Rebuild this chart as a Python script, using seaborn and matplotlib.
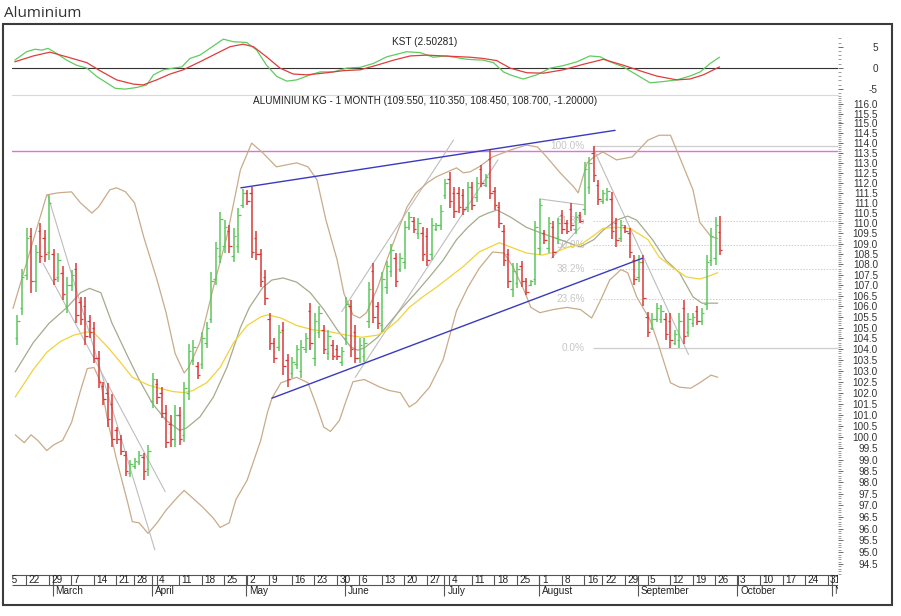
import numpy as np
import pandas as pd
import matplotlib
matplotlib.use("Agg")
import matplotlib.pyplot as plt
import matplotlib.ticker as ticker
from matplotlib.patches import Rectangle
import seaborn as sns

# trading calendar (exchange closed on Good Friday and Independence Day)
holidays = ["2016-03-25", "2016-08-15"]
first_bar = "2016-02-18"

# daily OHLC, one value per trading day from 18 Feb to 27 Sep 2016
highs = [
    105.6, 107.8, 109.75, 109.75, 108.95, 110.0, 109.65, 111.4, 108.75, 108.55,
    107.9, 107.4, 107.75, 108.05, 106.45, 106.45, 105.6, 105.25, 103.9, 102.5,
    102.45, 101.95, 100.45, 100.1, 99.4, 99.0, 99.05, 99.4, 99.3, 99.65,
    102.9, 102.6, 102.25, 101.45, 101.0, 101.45, 101.35, 102.5, 104.25, 104.4,
    103.4, 104.8, 105.25, 107.65, 109.1, 110.55, 110.15, 109.9, 109.75, 110.75,
    111.7, 111.65, 111.8, 109.6, 108.75, 107.75, 105.7, 104.5, 105.1, 105.25,
    103.75, 103.65, 104.2, 104.4, 104.75, 106.15, 105.7, 106.0, 105.1, 104.9,
    104.4, 104.2, 104.1, 106.45, 106.3, 105.1, 104.5, 104.5, 107.15, 108.05,
    106.2, 107.65, 108.15, 109.0, 108.55, 108.55, 110.1, 110.55, 110.3, 110.25,
    109.8, 109.75, 110.25, 110.0, 110.9, 112.2, 112.55, 111.8, 111.8, 111.7,
    112.05, 112.05, 112.3, 112.9, 112.45, 113.65, 111.8, 111.05, 109.9, 108.75,
    108.05, 108.05, 108.15, 107.35, 107.25, 110.1, 111.2, 109.65, 110.3, 110.1,
    110.25, 110.65, 110.15, 111.0, 110.55, 110.55, 113.05, 113.3, 113.85, 112.15,
    111.65, 111.75, 111.55, 110.25, 110.15, 109.9, 109.75, 108.45, 108.45, 108.45,
    105.75, 105.7, 106.15, 106.05, 105.7, 105.7, 104.9, 105.7, 106.3, 105.7,
    105.7, 106.0, 105.9, 108.45, 109.75, 110.3, 110.35,
]
lows = [
    104.2, 105.6, 107.25, 106.65, 106.7, 108.05, 108.1, 108.2, 107.0, 107.15,
    106.3, 105.7, 106.75, 105.2, 105.1, 104.2, 104.5, 103.35, 102.2, 101.45,
    100.45, 99.55, 99.7, 99.2, 98.3, 98.25, 98.6, 98.75, 98.1, 98.3,
    101.3, 101.5, 100.85, 99.5, 99.55, 99.55, 99.65, 99.8, 101.65, 103.25,
    102.6, 103.1, 104.05, 105.2, 107.0, 108.05, 108.55, 108.55, 108.1, 108.55,
    110.75, 110.9, 108.3, 108.2, 106.9, 106.05, 103.95, 103.35, 103.9, 102.8,
    102.25, 102.65, 103.1, 102.65, 103.8, 103.95, 103.2, 104.5, 103.75, 103.5,
    103.5, 103.5, 103.2, 104.2, 103.65, 103.35, 103.35, 103.4, 105.0, 105.2,
    104.95, 104.8, 106.6, 107.4, 106.9, 107.65, 107.8, 109.65, 109.5, 109.25,
    108.15, 107.9, 108.2, 109.6, 109.65, 111.2, 110.75, 110.25, 110.5, 110.4,
    110.55, 110.65, 111.05, 111.8, 111.8, 111.2, 110.65, 109.75, 107.9, 106.85,
    106.45, 106.85, 106.9, 106.55, 106.95, 107.0, 108.45, 109.0, 108.55, 108.3,
    109.0, 109.45, 109.45, 109.6, 109.45, 110.0, 110.4, 111.45, 112.05, 110.9,
    110.95, 111.1, 109.25, 108.85, 109.1, 109.5, 108.3, 107.0, 107.15, 106.0,
    104.55, 104.9, 105.25, 105.2, 104.4, 104.05, 104.2, 104.05, 104.25, 104.55,
    105.05, 105.1, 105.1, 105.85, 107.9, 107.95, 108.45,
]
opens = [
    104.5, 105.9, 107.5, 109.4, 107.2, 109.6, 109.3, 108.6, 108.5, 107.4,
    107.6, 106.0, 107.0, 107.8, 106.2, 106.0, 105.3, 105.0, 103.6, 102.3,
    102.0, 101.5, 100.3, 99.9, 99.2, 98.4, 98.7, 98.9, 99.1, 98.6,
    101.6, 102.4, 102.0, 101.1, 100.6, 99.9, 101.0, 100.1, 102.0, 103.5,
    103.2, 103.3, 104.3, 105.4, 107.3, 108.4, 108.9, 109.6, 108.4, 108.9,
    110.9, 111.5, 111.5, 109.3, 108.5, 107.4, 105.4, 104.3, 104.1, 104.9,
    103.5, 102.9, 103.3, 103.0, 104.0, 105.8, 103.6, 104.8, 104.9, 103.8,
    104.2, 104.0, 103.4, 104.5, 106.0, 104.8, 103.6, 103.7, 105.3, 107.7,
    106.0, 105.1, 106.9, 107.7, 108.3, 107.8, 108.1, 109.8, 110.1, 109.5,
    109.5, 109.4, 108.5, 109.7, 109.9, 111.4, 112.2, 111.5, 111.5, 111.4,
    110.8, 111.8, 111.3, 112.7, 111.9, 113.2, 111.6, 110.8, 109.6, 108.5,
    106.8, 107.1, 107.9, 107.2, 107.0, 107.3, 108.8, 109.5, 108.8, 109.8,
    109.3, 110.4, 110.0, 110.7, 109.7, 110.4, 110.7, 111.8, 113.5, 111.9,
    111.1, 111.2, 111.2, 110.0, 109.3, 109.8, 109.5, 108.2, 107.4, 108.1,
    105.5, 105.0, 105.4, 105.4, 105.4, 105.3, 104.3, 104.4, 105.9, 104.8,
    105.2, 105.8, 105.3, 106.1, 108.2, 108.3, 109.55,
]
closes = [
    105.3, 107.4, 109.3, 107.2, 108.6, 108.4, 108.5, 111.0, 107.3, 108.2,
    106.6, 107.0, 107.5, 105.6, 105.4, 104.6, 104.8, 103.6, 102.5, 101.7,
    100.8, 99.9, 99.9, 99.4, 98.5, 98.8, 98.95, 99.2, 98.5, 99.4,
    102.6, 101.8, 101.1, 99.8, 99.9, 101.0, 99.9, 102.2, 103.9, 104.1,
    102.8, 104.5, 105.0, 107.2, 108.8, 110.2, 109.8, 108.9, 109.4, 110.4,
    111.5, 111.1, 108.6, 108.5, 107.2, 106.4, 104.3, 103.6, 104.8, 103.2,
    102.6, 103.4, 104.0, 104.1, 104.5, 104.3, 105.3, 105.7, 104.0, 104.6,
    103.7, 103.7, 103.9, 106.1, 104.0, 103.6, 104.2, 104.3, 106.8, 105.5,
    105.2, 107.3, 107.9, 108.7, 107.2, 108.3, 109.8, 110.3, 109.7, 110.0,
    108.5, 108.2, 109.9, 109.9, 110.6, 112.0, 111.1, 110.6, 110.8, 110.7,
    111.8, 110.9, 112.0, 112.0, 112.3, 111.5, 110.9, 110.0, 108.2, 107.2,
    107.7, 107.8, 107.2, 106.7, 107.2, 109.8, 110.9, 109.2, 110.0, 108.6,
    110.0, 109.7, 109.6, 109.9, 110.3, 110.1, 112.7, 113.0, 112.4, 111.2,
    111.5, 111.6, 109.6, 109.2, 109.9, 109.6, 108.6, 107.3, 108.1, 106.4,
    104.8, 105.4, 105.9, 105.8, 104.7, 104.4, 104.7, 105.3, 104.6, 105.4,
    105.5, 105.3, 105.7, 108.1, 109.4, 109.9, 108.7,
]
prev_close = 109.9

# indicator readings; the *_at lists are trading-day numbers counted from 15 Feb
bb_upper_at = [2, 9.5, 12, 15, 17, 19.5, 21, 23.5, 25, 27, 29, 31, 34, 36, 38, 40, 41,
               43.5, 46.5, 49.5, 52.5, 55, 57.5, 60.5, 65, 67.5, 69.5, 71.5, 74, 75.5,
               77.5, 79, 80.5, 83, 85, 87.5, 89.5, 91.5, 94, 96, 98.5, 100.5, 102, 103.5,
               105.5, 108.5, 112.5, 116, 118.5, 120.5, 123.5, 126.5, 127.5, 129.5, 131,
               133, 136, 139.5, 143, 145.5, 148, 150, 153, 154.5, 157, 158.5]
bb_upper = [105.9, 111.4, 111.5, 111.55, 111.0, 110.5, 110.8, 111.65, 111.75, 111.55,
            111.0, 109.35, 107.25, 105.7, 103.8, 102.9, 103.15, 104.3, 106.9, 109.35,
            112.65, 114.0, 113.5, 112.8, 113.0, 112.8, 112.15, 110.15, 108.2, 106.6,
            105.6, 105.45, 105.7, 106.9, 108.2, 109.65, 110.8, 111.5, 112.0, 112.3,
            112.55, 112.75, 112.5, 112.55, 112.8, 113.3, 113.65, 113.9, 113.8, 113.3,
            112.5, 111.8, 111.5, 113.0, 113.3, 113.55, 113.15, 113.3, 114.15, 114.4,
            114.4, 113.3, 111.65, 110.05, 109.35, 109.25]
bb_lower_at = [2.5, 4.5, 6, 7.5, 9.5, 11, 13, 15, 17, 18.5, 20, 21.5, 23, 25, 27.5, 28.5,
               30, 32, 34, 36, 38.5, 40, 42, 44, 46.5, 48, 50, 51.5, 54, 57, 58.5, 59.5,
               61.5, 65, 67.5, 69.5, 71, 72.5, 74.5, 76, 77.5, 80, 81.5, 83.5, 85.5, 88,
               90, 91.5, 94.5, 97.5, 100.5, 103, 105.5, 108.5, 111, 113, 115.5, 117, 119,
               122, 125, 128, 130.5, 132.5, 134.5, 137, 138.5, 140.5, 143.5, 145.5, 148,
               150, 152.5, 154.5, 157, 158.5]
bb_lower = [100.1, 99.75, 100.1, 99.85, 99.4, 99.65, 99.85, 100.65, 102.1, 103.1,
            103.15, 102.45, 100.75, 99.0, 97.1, 96.3, 96.25, 95.8, 96.25, 96.8,
            97.35, 97.65, 97.3, 96.95, 96.45, 96.05, 96.25, 97.25, 98.1, 99.85,
            101.1, 101.75, 102.45, 102.7, 102.45, 101.35, 100.45, 100.25, 100.75, 101.65,
            102.5, 102.6, 102.45, 102.25, 102.1, 102.0, 101.35, 101.55, 102.25, 103.5,
            105.8, 106.9, 107.8, 108.6, 108.55, 107.9, 106.75, 105.95, 105.7, 105.85,
            105.95, 105.85, 105.45, 106.3, 107.25, 107.75, 107.6, 106.45, 105.35, 104.1,
            102.45, 102.25, 102.2, 102.45, 102.8, 102.7]
bb_mid_at = [2.5, 6.5, 10, 14, 17, 19, 21.5, 24, 27.5, 30, 33, 36, 39, 40.5, 43.5, 46.5,
             49.5, 52.5, 54.5, 57.5, 59.5, 62, 65, 68, 71, 74, 77, 78.5, 80, 83, 85.5,
             88.5, 91.5, 94.5, 97.5, 100.5, 103, 105.5, 107.5, 109.5, 112.5, 116, 119.5,
             123.5, 126.5, 128, 131, 133, 136, 138.5, 140.5, 144, 147, 150, 153, 155, 158.5]
bb_mid = [102.95, 104.3, 105.2, 105.95, 106.65, 106.85, 106.65, 105.2, 103.65, 102.6,
          101.5, 100.75, 100.3, 100.4, 100.9, 101.8, 103.15, 105.0, 105.95, 106.9,
          107.25, 107.35, 107.15, 106.65, 105.85, 104.9, 104.1, 103.95, 104.05, 104.55,
          105.2, 105.95, 106.65, 107.4, 108.2, 109.2, 109.8, 110.3, 110.5, 110.65,
          110.3, 109.8, 109.5, 109.2, 108.95, 108.85, 109.2, 109.65, 110.15, 110.35,
          110.15, 109.2, 108.2, 107.6, 106.45, 106.15, 106.15]
ma_at = [2.5, 6.5, 9.5, 12.5, 15.5, 18.5, 20, 23, 26, 28.5, 32, 34.5, 37.5, 40, 42, 45,
         48, 51, 54, 57, 58.5, 61.5, 65, 68.5, 72.5, 76, 79.5, 83, 85, 87.5, 90, 93, 96,
         99, 102, 105.5, 107.5, 110, 113, 116, 119.5, 122.5, 125.5, 128, 131, 133, 136,
         139, 143, 145.5, 148.5, 151.5, 154.5, 156, 158.5]
ma = [101.8, 103.05, 103.85, 104.35, 104.65, 104.8, 104.75, 104.1, 103.35, 102.7,
      102.35, 102.2, 102.05, 102.0, 102.1, 102.45, 103.15, 104.3, 105.1, 105.5,
      105.6, 105.45, 105.1, 104.9, 104.8, 104.65, 104.55, 104.65, 104.9, 105.35,
      105.95, 106.45, 106.9, 107.4, 107.9, 108.6, 108.8, 109.05, 108.8, 108.55,
      108.45, 108.6, 108.85, 108.95, 109.4, 109.75, 109.8, 109.75, 109.2, 108.35,
      107.85, 107.4, 107.3, 107.4, 107.6]
kst_at = [2.4, 5, 6.9, 8.4, 9.8, 11.7, 13.9, 16.1, 18.4, 20.6, 22.8, 24.7, 26.9, 29.5,
          31.7, 33.2, 35.4, 37.6, 39.5, 41.3, 43.5, 45.7, 48.7, 50.9, 53.9, 56.1, 58.3,
          60.6, 62.8, 65, 68, 70.2, 73.1, 76.1, 79.1, 82, 85, 89.4, 92.4, 95.3, 98.3,
          102.8, 106.4, 108.7, 110.9, 112.4, 115.3, 118.3, 121.3, 124.2, 127.2, 130.1,
          132.4, 134.6, 137.5, 140.5, 143.5, 146.4, 149.4, 152.3, 154.6, 156.8, 158.9]
kst = [1.8, 3.8, 4.4, 4.2, 4.6, 3.4, 1.8, 0.6, -0.1, -2.1, -3.6, -4.9, -5.1, -4.7, -4.1,
       -1.7, -0.5, -0.1, 0.2, 2.2, 3.0, 4.6, 6.8, 6.2, 6.0, 4.2, 0.6, -2.1, -3.2, -2.9,
       -1.7, -1.0, -1.0, -0.1, 0.1, 1.0, 2.6, 3.8, 3.6, 2.5, 2.8, 2.0, 1.8, 1.2, -1.0,
       -1.7, -2.7, -1.7, -0.1, 0.5, 1.4, 2.8, 2.6, 1.4, 0.2, -1.7, -3.6, -3.3, -2.9,
       -2.0, -1.0, 1.0, 2.5]
signal_at = [2.4, 6.5, 10.2, 13.9, 18.4, 21.3, 25, 28.7, 30.9, 33.9, 36.9, 39.8, 43.5,
             47.2, 50.2, 53.1, 55.4, 58.3, 61.3, 64.2, 67.2, 70.9, 75.4, 79.1, 82.8,
             86.5, 90.2, 93.9, 97.6, 103.5, 106.4, 109.4, 112.4, 116.1, 119.8, 124.2,
             128.6, 133.1, 137.5, 142, 145, 149.4, 152.3, 155.3, 158.9]
signal = [1.4, 2.8, 3.7, 2.6, 1.2, -0.7, -2.9, -3.9, -4.1, -2.9, -1.5, -0.5, 1.4, 3.4,
          5.0, 5.6, 5.0, 2.6, -0.1, -1.5, -1.7, -1.3, -0.7, -0.5, 0.6, 1.8, 2.8, 3.0,
          2.8, 2.5, 2.2, 1.7, -0.1, -1.2, -1.3, -0.5, 0.8, 2.0, 0.6, -1.0, -2.0, -2.9,
          -2.7, -1.7, 0.2]

# drawn studies: ((day, price), (day, price))
channel_lines = [((52.6, 111.75), (135.7, 114.65)), ((59.5, 101.75), (141.8, 108.3))]
grey_lines = [
    ((9.7, 111.4), (33.5, 95.1)),
    ((8.7, 108.05), (35.8, 97.6)),
    ((75, 105.75), (99.8, 114.15)),
    ((78, 102.7), (109.7, 113.15)),
    ((118.9, 111.2), (128.8, 110.9)),
    ((121.6, 108.3), (127.9, 109.8)),
    ((130.8, 113.75), (152, 103.75)),
]
resistance = 113.62
fib_ratios = [0.0, 0.236, 0.382, 0.5, 0.618, 1.0]

GREEN, RED = "#5cc65c", "#d83838"
TAN, OLIVE, GOLD = "#c9ab8a", "#a5ab8c", "#f2d23a"
BLUE, MAGENTA, GREY, FIB = "#3a3abf", "#e070e0", "#bdbdbd", "#cdcdcd"
AXC = "#555555"
W, H = 901, 616
XMIN, XMAX = 1.78, 185.2


def box(x0, y0, x1, y1):
    # pixel rectangle -> figure fraction
    return [x0 / W, 1 - y1 / H, (x1 - x0) / W, (y1 - y0) / H]


def right_ticks(ax, majors, minors, fmt, pad):
    ax.yaxis.tick_right()
    ax.yaxis.set_major_locator(ticker.FixedLocator(majors))
    ax.yaxis.set_minor_locator(ticker.FixedLocator(minors))
    ax.yaxis.set_major_formatter(ticker.FormatStrFormatter(fmt))
    ax.yaxis.set_minor_formatter(ticker.NullFormatter())
    ax.tick_params(axis="y", which="major", direction="out", length=3.5, width=0.6,
                   color=AXC, pad=pad, labelsize=7.2, labelcolor="#333333")
    ax.tick_params(axis="y", which="minor", direction="out", length=1.8, width=0.5,
                   color="#777777")
    ax.tick_params(axis="x", which="both", bottom=False, labelbottom=False)
    for lab in ax.get_yticklabels():
        lab.set_horizontalalignment("right")
    for s in ax.spines.values():
        s.set_visible(False)
    ax.set_xlabel("")
    ax.set_ylabel("")


def main():
    sns.set_theme(style="white")
    plt.rcParams["font.family"] = ["Liberation Sans", "DejaVu Sans"]

    days = pd.bdate_range("2016-02-15", "2016-11-04")
    days = days[~days.isin(pd.to_datetime(holidays))]
    start = days.get_loc(pd.Timestamp(first_bar))

    bars = pd.DataFrame({"open": opens, "high": highs, "low": lows, "close": closes})
    bars["x"] = np.arange(start, start + len(bars))
    colors = np.where(bars["close"] >= bars["open"], GREEN, RED)

    fig = plt.figure(figsize=(W / 100, H / 100), dpi=100)
    ax_k = fig.add_axes(box(12, 30, 838, 95))
    ax = fig.add_axes(box(12, 95, 838, 574), sharex=ax_k)
    ax_d = fig.add_axes(box(12, 574, 838, 600), sharex=ax_k)

    # KST panel
    sns.lineplot(x=kst_at, y=kst, ax=ax_k, color="#5fcc5f", linewidth=0.9)
    sns.lineplot(x=signal_at, y=signal, ax=ax_k, color="#e03c3c", linewidth=0.9)
    ax_k.axhline(0, color="#333333", lw=0.8, zorder=1)
    ax_k.set_ylim(-6.5, 8.98)
    right_ticks(ax_k, [-5, 0, 5], np.arange(-6, 8), "%g", 25.3)
    ax_k.text(0.5, 1 - 12 / 65, "KST (2.50281)", transform=ax_k.transAxes,
              ha="center", va="center", fontsize=7.2, color="#222222")

    # price panel
    for at, vals, col in [(bb_upper_at, bb_upper, TAN), (bb_lower_at, bb_lower, TAN),
                          (bb_mid_at, bb_mid, OLIVE), (ma_at, ma, GOLD)]:
        sns.lineplot(x=at, y=vals, ax=ax, color=col, linewidth=0.9, zorder=3)

    ax.axhline(resistance, color=MAGENTA, lw=1.0, zorder=2)
    for (x0, y0), (x1, y1) in grey_lines:
        ax.plot([x0, x1], [y0, y1], color=GREY, lw=0.8, zorder=2)
    for (x0, y0), (x1, y1) in channel_lines:
        ax.plot([x0, x1], [y0, y1], color=BLUE, lw=1.0, zorder=5)

    spike = bars["high"].idxmax()
    fib_hi = bars.loc[spike, "high"]
    fib_lo = bars.loc[spike:, "low"].min()
    fib_x = bars.loc[spike, "x"]
    for r in fib_ratios:
        lvl = fib_lo + r * (fib_hi - fib_lo)
        solid = r in (0.0, 1.0)
        ax.hlines(lvl, fib_x - 0.3, XMAX, colors=FIB, lw=0.9 if solid else 0.7,
                  linestyles="-" if solid else (0, (1.5, 1.5)), zorder=1)
        ax.text(fib_x - 2.0, lvl, f"{r * 100:.1f}%", ha="right", va="center",
                fontsize=7.2, color="#c6c6c6", zorder=1)

    ax.vlines(bars["x"], bars["low"], bars["high"], colors=colors, lw=1.1, zorder=4)
    ax.hlines(bars["open"], bars["x"] - 0.55, bars["x"], colors=colors, lw=0.9, zorder=4)
    ax.hlines(bars["close"], bars["x"], bars["x"] + 0.55, colors=colors, lw=0.9, zorder=4)

    ax.set_yscale("log")
    ax.set_ylim(94.08, 116.47)
    right_ticks(ax, np.arange(94.5, 116.01, 0.5), np.arange(94.1, 116.45, 0.1), "%.1f", 25.3)
    ax.spines["top"].set_visible(True)
    ax.spines["top"].set_color("#d8d8d8")
    ax.spines["top"].set_linewidth(0.8)

    last = bars.iloc[-1]
    label = (f"ALUMINIUM KG - 1 MONTH ({last['open']:.3f}, {last['high']:.3f}, "
             f"{last['low']:.3f}, {last['close']:.3f}, {last['close'] - prev_close:.5f})")
    ax.text(0.5, 1 - 6.5 / 479, label, transform=ax.transAxes, ha="center",
            va="center", fontsize=7.2, color="#222222")

    # date strip
    ax_d.set_ylim(600, 574)
    ax_d.axis("off")
    pos = pd.Series(np.arange(len(days)), index=days)
    week_pos = pos.groupby(days.to_period("W")).first().to_numpy()
    new_month = np.r_[False, days.month[1:] != days.month[:-1]]
    month_pos = np.flatnonzero(new_month)
    ax_d.hlines([575, 585], XMIN, XMAX, colors=AXC, lw=0.8)
    ax_d.vlines(week_pos - 0.1, 575, 585, colors=AXC, lw=0.8)
    ax_d.vlines(month_pos - 0.2, 575, 596, colors=AXC, lw=0.8)
    for p in week_pos:
        ax_d.text(p + 0.45, 580.3, str(days[p].day), ha="left", va="center",
                  fontsize=7.2, color="#222222", clip_on=True)
    for p in month_pos:
        ax_d.text(p + 0.45, 591, days[p].strftime("%B"), ha="left", va="center",
                  fontsize=7.2, color="#222222", clip_on=True)

    ax_k.set_xlim(XMIN, XMAX)

    fig.add_artist(Rectangle((3 / W, 1 - 605 / H), 889 / W, 581 / H,
                             transform=fig.transFigure, fill=False, lw=1.5,
                             ec="#3c3c3c"))
    fig.text(4 / W, 1 - 17 / H, "Aluminium", fontsize=11, color="#333333",
             family=["Open Sans", "DejaVu Sans"], va="baseline", ha="left")

    fig.savefig("out.png", dpi=100)
    plt.close(fig)


if __name__ == "__main__":
    main()
